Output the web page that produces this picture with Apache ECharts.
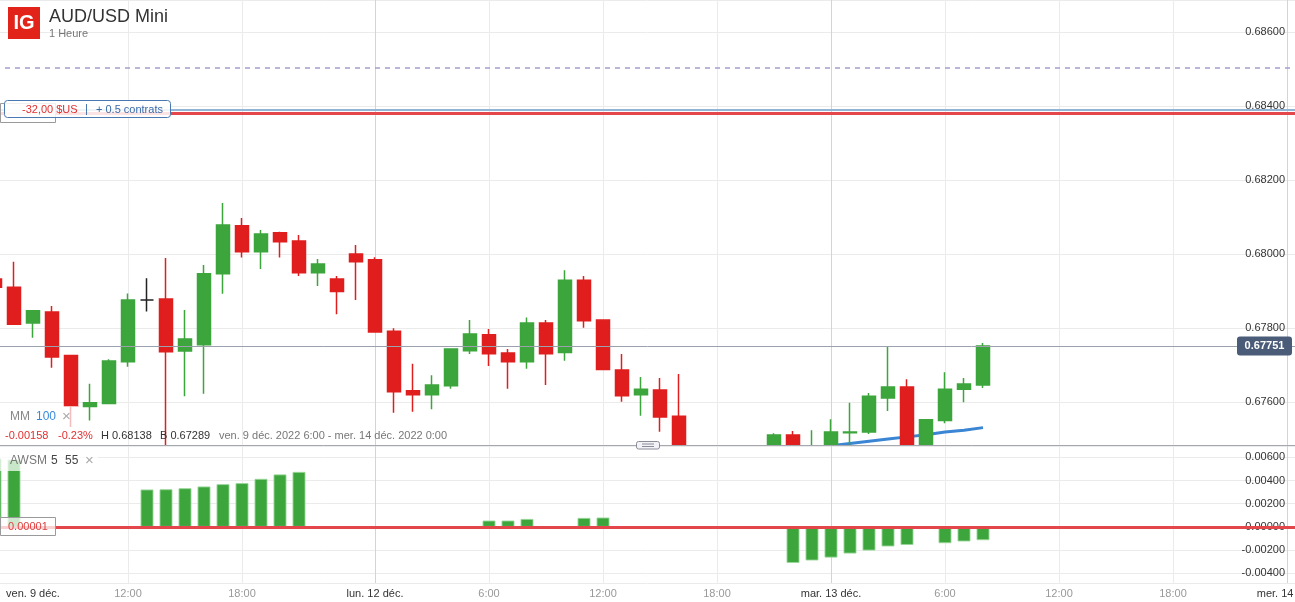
<!DOCTYPE html>
<html>
<head>
<meta charset="utf-8">
<title>AUD/USD Mini</title>
<script src="https://cdn.jsdelivr.net/npm/echarts@6.0.0/dist/echarts.min.js"></script>
<style>
  html, body { margin: 0; padding: 0; background: #fff; }
  #chart { width: 1295px; height: 602px; }
</style>
</head>
<body>
<div id="chart"></div>
<script>
// créneaux horaires : ven. 9 5h-22h, dim. 11 22h-23h, lun. 12, mar. 13, mer. 14 0h-1h
const slots = [['09/12', 5, 22], ['11/12', 22, 23], ['12/12', 0, 23], ['13/12', 0, 23], ['14/12', 0, 1]];
const categories = [];
slots.forEach(([d, a, b]) => {
  for (let h = a; h <= b; h++) categories.push(d + ' ' + h + ':00');
});

// étiquettes de l'axe du temps (index de catégorie)
const tickIdx = [2, 7, 13, 20, 26, 32, 38, 44, 50, 56, 62, 68];
const tickText = ['ven. 9 déc.', '12:00', '18:00', 'lun. 12 déc.', '6:00', '12:00', '18:00',
  'mar. 13 déc.', '6:00', '12:00', '18:00', 'mer. 14 déc.'];
const dayTicks = ['ven. 9 déc.', 'lun. 12 déc.', 'mar. 13 déc.', 'mer. 14 déc.'];
const gridIdx = [7, 13, 20, 26, 32, 38, 44, 50, 56, 62, 68];

// bougies 1 heure
const open = [0.67932, 0.67910, 0.67813, 0.67843, 0.67725, 0.67587, 0.67595, 0.67708, 0.67875, 0.67878,
  0.67737, 0.67754, 0.67946, 0.68076, 0.68006, 0.68057, 0.68035, 0.67949, 0.67932, 0.68000,
  0.67984, 0.67791, 0.67630, 0.67619, 0.67643, 0.67738, 0.67781, 0.67732, 0.67708, 0.67813,
  0.67733, 0.67929, 0.67821, 0.67686, 0.67619, 0.67632, 0.67561, 0.67450, 0.67380, 0.67320,
  0.67400, 0.67430, 0.67510, 0.67460, 0.67470, 0.67516, 0.67518, 0.67610, 0.67640, 0.67478,
  0.67549, 0.67634, 0.67645];
const close = [0.67910, 0.67810, 0.67846, 0.67721, 0.67588, 0.67597, 0.67710, 0.67875, 0.67875, 0.67735,
  0.67770, 0.67946, 0.68078, 0.68006, 0.68054, 0.68033, 0.67949, 0.67973, 0.67898, 0.67979,
  0.67789, 0.67627, 0.67619, 0.67645, 0.67743, 0.67783, 0.67730, 0.67708, 0.67813, 0.67730,
  0.67929, 0.67819, 0.67687, 0.67616, 0.67634, 0.67559, 0.67450, 0.67380, 0.67320, 0.67400,
  0.67430, 0.67510, 0.67460, 0.67470, 0.67518, 0.67518, 0.67615, 0.67640, 0.67478, 0.67551,
  0.67634, 0.67648, 0.67751];
const low = [0.67895, 0.67808, 0.67773, 0.67692, 0.67532, 0.67549, 0.67594, 0.67695, 0.67844, 0.67470,
  0.67615, 0.67622, 0.67892, 0.67990, 0.67959, 0.67990, 0.67940, 0.67913, 0.67837, 0.67875,
  0.67787, 0.67570, 0.67573, 0.67580, 0.67635, 0.67729, 0.67697, 0.67635, 0.67689, 0.67645,
  0.67711, 0.67800, 0.67687, 0.67600, 0.67562, 0.67519, 0.67420, 0.67330, 0.67289, 0.67300,
  0.67360, 0.67400, 0.67440, 0.67430, 0.67440, 0.67470, 0.67513, 0.67575, 0.67470, 0.67470,
  0.67542, 0.67599, 0.67637];
const high = [0.67945, 0.67979, 0.67848, 0.67859, 0.67727, 0.67649, 0.67715, 0.67893, 0.67934, 0.67989,
  0.67848, 0.67970, 0.68138, 0.68097, 0.68065, 0.68060, 0.68051, 0.67986, 0.67940, 0.68024,
  0.67991, 0.67799, 0.67703, 0.67672, 0.67743, 0.67821, 0.67797, 0.67743, 0.67828, 0.67821,
  0.67956, 0.67940, 0.67821, 0.67729, 0.67667, 0.67664, 0.67675, 0.67470, 0.67420, 0.67440,
  0.67460, 0.67515, 0.67521, 0.67523, 0.67553, 0.67597, 0.67624, 0.67748, 0.67661, 0.67553,
  0.67680, 0.67664, 0.67759];

// moyenne mobile 100 (partie visible seulement)
const mm100 = [null, null, null, null, null, null, null, null, null, null,
  null, null, null, null, null, null, null, null, null, null,
  null, null, null, null, null, null, null, null, null, null,
  null, null, null, null, null, null, null, null, null, null,
  null, null, 0.67469, 0.67475, 0.67481, 0.67487, 0.67493, 0.67499, 0.67505, 0.67511,
  0.67518, 0.67523, 0.67530];

// AWSM 5 55
const awsm = [0.0059, 0.0058, null, null, null, null, null, null, 0.00323, 0.00325,
  0.00334, 0.00349, 0.00369, 0.00378, 0.00415, 0.00453, 0.00475, null, null, null,
  null, null, null, null, null, null, 0.00055, 0.00055, 0.00069, null,
  null, 0.00078, 0.00081, null, null, null, null, null, null, null,
  null, null, -0.00311, -0.0029, -0.00265, -0.0023, -0.00204, -0.00169, -0.00156, null,
  -0.00141, -0.00126, -0.00115];

const lastPrice = 0.67751;
const alertLevel = 0.68503;
const orderLevel = 0.68391;
const stopLevel = 0.68381;
const awsmZero = 0.00001;

const GREEN = '#3ca53c';
const RED = '#e01e1e';
const FONT = '"Liberation Sans", Arial, sans-serif';

const candles = open.map((o, i) => [o, close[i], low[i], high[i]]);

const chart = echarts.init(document.getElementById('chart'));

function timeAxis(gridIndex, showLabels) {
  return {
    type: 'category',
    gridIndex: gridIndex,
    data: categories,
    boundaryGap: false,
    z: gridIndex === 1 ? 30 : 0,
    axisLine: { show: false },
    axisTick: { show: false },
    axisLabel: {
      show: showLabels,
      interval: (i) => tickIdx.includes(i),
      margin: 5,
      formatter: (v, i) => {
        const t = tickText[tickIdx.indexOf(i)];
        return dayTicks.includes(t) ? '{d|' + t + '}' : '{t|' + t + '}';
      },
      rich: {
        d: { color: '#333', fontSize: 11, fontFamily: FONT },
        t: { color: '#999', fontSize: 11, fontFamily: FONT }
      }
    },
    splitLine: {
      show: true,
      interval: (i) => gridIdx.includes(i),
      lineStyle: { color: ['#ebebeb', '#ebebeb', '#d3d3d8', '#ebebeb'], width: 1 }
    }
  };
}

function priceAxis(gridIndex, min, max) {
  return {
    type: 'value',
    gridIndex: gridIndex,
    position: 'right',
    offset: -19,
    min: min,
    max: max,
    splitNumber: 6,
    z: gridIndex === 1 ? 30 : 0,
    axisLine: { show: false },
    axisTick: { show: false },
    axisLabel: {
      inside: true,
      margin: 2,
      showMinLabel: false,
      showMaxLabel: false,
      color: '#333',
      fontSize: 11,
      fontFamily: FONT,
      formatter: (v) => v.toFixed(5)
    },
    splitLine: { lineStyle: { color: '#ebebeb' } }
  };
}

function txt(x, y, text, color, size, extra) {
  return Object.assign({
    type: 'text', z: 40, x: x, y: y,
    style: { text: text, fill: color, font: size + 'px ' + FONT, verticalAlign: 'middle' }
  }, extra || {});
}

function level(value, color, width, type) {
  return { yAxis: value, lineStyle: { color: color, width: width, type: type } };
}

chart.setOption({
  animation: false,
  textStyle: { fontFamily: FONT },
  grid: [
    { left: -5, right: -11, top: 0, height: 445, containLabel: false, outerBoundsMode: 'none' },
    { left: -5, right: -11, top: 446, height: 137, containLabel: false, outerBoundsMode: 'none' }
  ],
  xAxis: [timeAxis(0, false), timeAxis(1, true)],
  yAxis: [priceAxis(0, 0.67483, 0.68687), priceAxis(1, -0.00484, 0.00698)],
  series: [
    {
      type: 'line',
      name: 'MM 100',
      xAxisIndex: 0,
      yAxisIndex: 0,
      data: mm100,
      z: 1,
      clip: true,
      symbol: 'none',
      lineStyle: { color: '#3a86d4', width: 3 },
      markLine: {
        silent: true,
        symbol: 'none',
        precision: 5,
        label: { show: false },
        data: [
          level(alertLevel, '#a39fcb', 1.5, [5, 5]),
          level(orderLevel, '#93b4d4', 2, 'solid'),
          level(stopLevel, '#e3474b', 3, 'solid'),
          level(lastPrice, '#9ba2ad', 1, 'solid')
        ]
      }
    },
    {
      type: 'candlestick',
      name: 'AUD/USD Mini',
      xAxisIndex: 0,
      yAxisIndex: 0,
      data: candles,
      clip: true,
      barWidth: 13,
      itemStyle: {
        color: GREEN, color0: RED,
        borderColor: GREEN, borderColor0: RED,
        borderColorDoji: '#222',
        borderWidth: 1.5
      }
    },
    {
      type: 'bar',
      name: 'AWSM',
      xAxisIndex: 1,
      yAxisIndex: 1,
      data: awsm,
      z: 30,
      barWidth: 13,
      itemStyle: { color: GREEN, borderColor: 'rgba(150,214,150,0.9)', borderWidth: 1 },
      markLine: {
        silent: true,
        z: 35,
        symbol: 'none',
        precision: 5,
        label: { show: false },
        data: [level(awsmZero, '#e3474b', 3, 'solid')]
      }
    }
  ],
  graphic: [
    // le panneau AWSM masque ce qui déborde du panneau des prix
    { type: 'rect', z: 25, shape: { x: 0, y: 446, width: 1295, height: 156 }, style: { fill: '#fff' } },

    // logo et titre
    { type: 'rect', z: 40, shape: { x: 8, y: 7, width: 32, height: 32 }, style: { fill: '#e2231a' } },
    txt(24, 23.5, 'IG', '#fff', 20, { style: { text: 'IG', fill: '#fff', font: 'bold 20px ' + FONT, align: 'center', verticalAlign: 'middle' } }),
    txt(49, 17, 'AUD/USD Mini', '#333', 18),
    txt(49, 34, '1 Heure', '#777', 11),

    // boîte position
    { type: 'rect', z: 39, shape: { x: 0.5, y: 103.5, width: 55, height: 19 }, style: { fill: 'rgba(255,255,255,0.8)', stroke: '#9a9a9a', lineWidth: 1 } },
    { type: 'rect', z: 40, shape: { x: 4.5, y: 100.5, width: 166, height: 17, r: 3 }, style: { fill: 'rgba(255,255,255,0.85)', stroke: '#4a78b0', lineWidth: 1 } },
    txt(22, 110, '-32,00 $US', '#e03030', 11),
    { type: 'line', z: 40, shape: { x1: 86.5, y1: 104, x2: 86.5, y2: 115 }, style: { stroke: '#4a78b0', lineWidth: 1 } },
    txt(96, 110, '+ 0.5 contrats', '#3a6aa8', 11),

    // légende MM
    { type: 'rect', z: 39, shape: { x: 0, y: 406, width: 78, height: 21 }, style: { fill: 'rgba(255,255,255,0.7)' } },
    txt(10, 417, 'MM', '#888', 12),
    txt(36, 417, '100', '#3a8ad8', 12),
    txt(62, 417, '×', '#aaa', 15),

    // ligne d'info
    txt(5, 436, '-0.00158', '#e03030', 11),
    txt(58, 436, '-0.23%', '#e03030', 11),
    txt(101, 436, 'H 0.68138', '#333', 11),
    txt(160, 436, 'B 0.67289', '#333', 11),
    txt(219, 436, 'ven. 9 déc. 2022 6:00 - mer. 14 déc. 2022 0:00', '#777', 11),

    // séparateur de panneaux
    { type: 'line', z: 38, shape: { x1: 0, y1: 445.5, x2: 1295, y2: 445.5 }, style: { stroke: '#a6a8b0', lineWidth: 1 } },
    { type: 'rect', z: 40, shape: { x: 636.5, y: 441.5, width: 23, height: 7.5, r: 2 }, style: { fill: '#f3f3f7', stroke: '#8a8c98', lineWidth: 1 } },
    { type: 'line', z: 41, shape: { x1: 642, y1: 444, x2: 654, y2: 444 }, style: { stroke: '#8a8c98', lineWidth: 1 } },
    { type: 'line', z: 41, shape: { x1: 642, y1: 446.5, x2: 654, y2: 446.5 }, style: { stroke: '#8a8c98', lineWidth: 1 } },

    // dernier cours
    { type: 'rect', z: 40, shape: { x: 1237, y: 336.5, width: 55, height: 19, r: 3 }, style: { fill: '#4b5c78' } },
    txt(1264.5, 346, '0.67751', '#fff', 11, { style: { text: '0.67751', fill: '#fff', font: 'bold 11px ' + FONT, align: 'center', verticalAlign: 'middle' } }),

    // légende AWSM
    { type: 'rect', z: 39, shape: { x: 0, y: 451, width: 98, height: 20 }, style: { fill: 'rgba(255,255,255,0.72)' } },
    txt(10, 461, 'AWSM', '#777', 12),
    txt(51, 461, '5', '#444', 12),
    txt(65, 461, '55', '#444', 12),
    txt(85, 461, '×', '#aaa', 15),

    // niveau zéro AWSM
    { type: 'rect', z: 39, shape: { x: 0.5, y: 517.5, width: 55, height: 18 }, style: { fill: 'rgba(255,255,255,0.75)', stroke: '#9a9a9a', lineWidth: 1 } },
    txt(8, 526.5, '0.00001', '#e04040', 11)
  ]
});
</script>
</body>
</html>
